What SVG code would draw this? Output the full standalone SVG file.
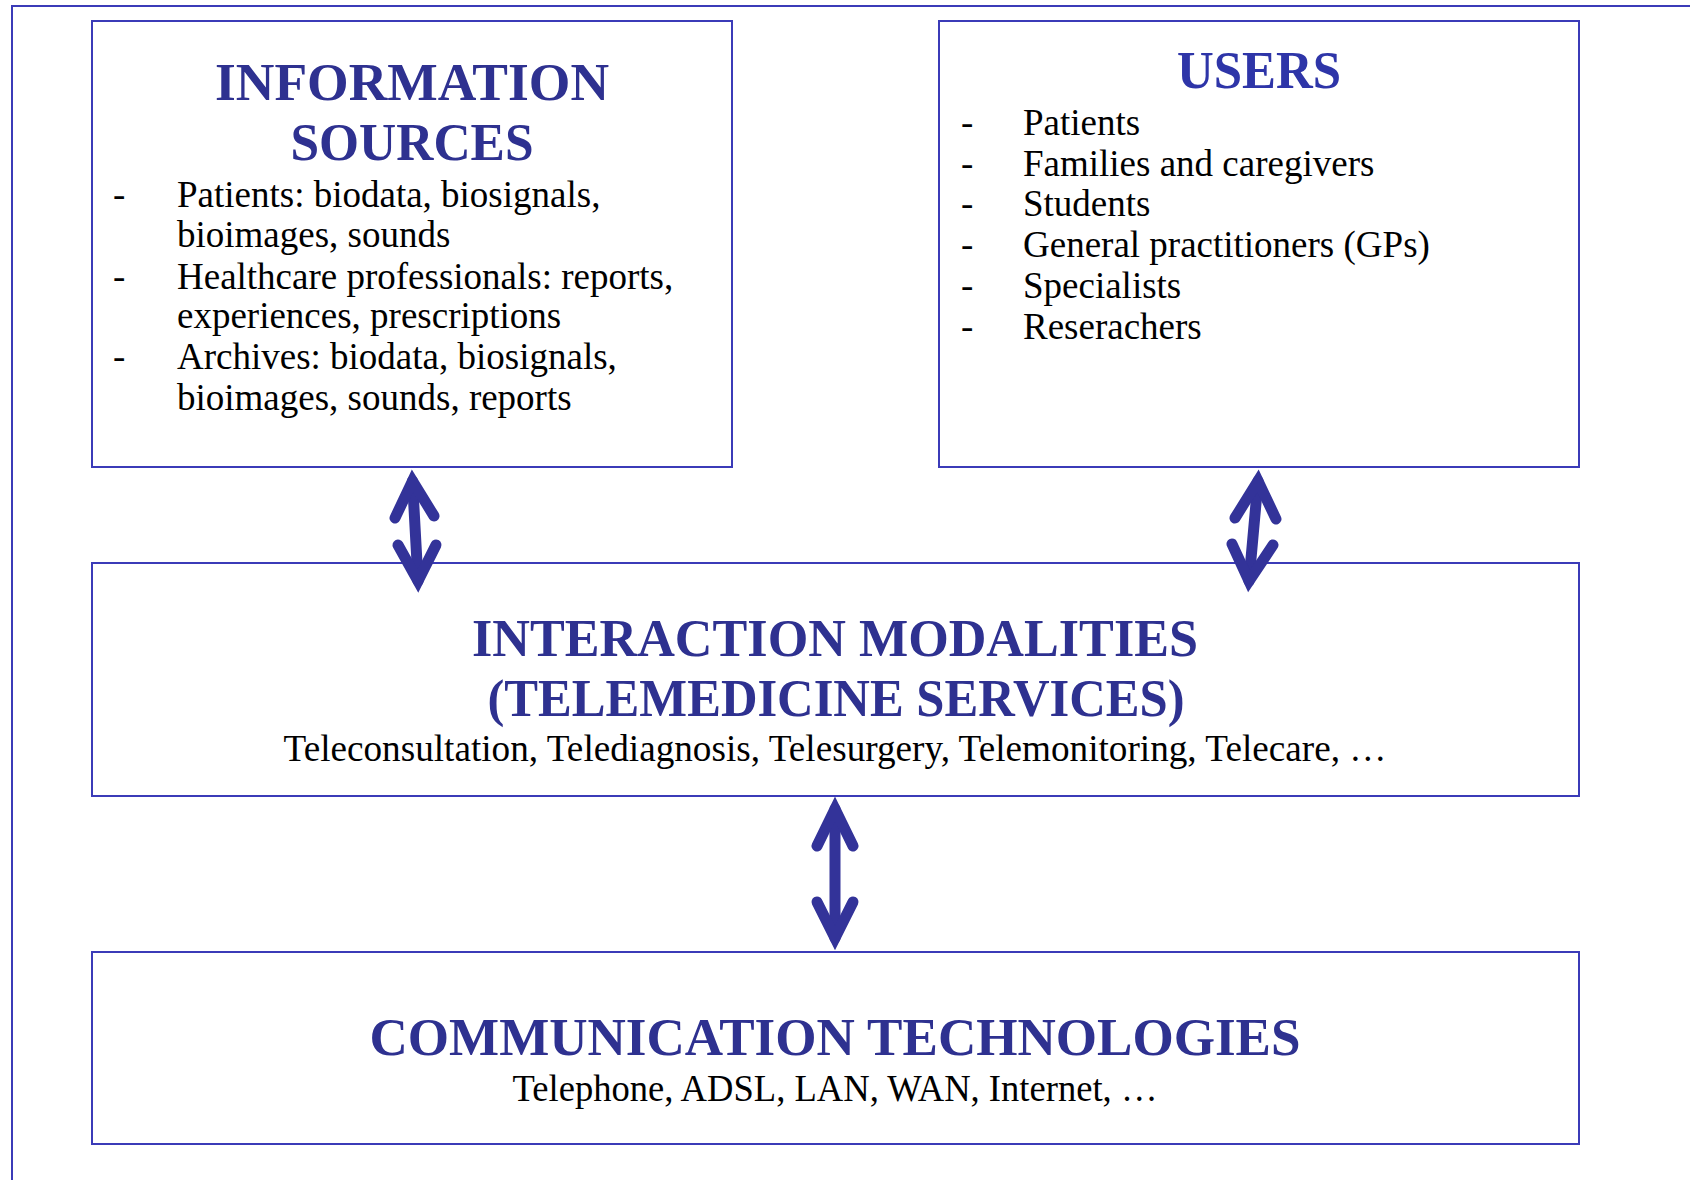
<svg xmlns="http://www.w3.org/2000/svg" width="1690" height="1180" viewBox="0 0 1690 1180">
<defs>
<style>
.frame{fill:none;stroke:#3B3BB8;stroke-width:2}
.box{fill:#ffffff;stroke:#3B3BB8;stroke-width:2}
.title{font-family:"Liberation Serif","Times New Roman",serif;font-weight:bold;font-size:52px;fill:#2E3190;text-anchor:middle}
.body{font-family:"Liberation Serif","Times New Roman",serif;font-size:37px;fill:#000000}
.mid{text-anchor:middle}
.arrow{fill:none;stroke:#333399;stroke-width:11;stroke-linecap:round;stroke-linejoin:miter;stroke-miterlimit:6}
</style>
</defs>
<rect width="1690" height="1180" fill="#ffffff"/>
<path class="frame" d="M12,1180 V6 H1690"/>

<g id="information-sources">
<rect class="box" x="92" y="21" width="640" height="446"/>
<text class="title" x="412" y="100" textLength="394" lengthAdjust="spacingAndGlyphs">INFORMATION</text>
<text class="title" x="412" y="160" textLength="243" lengthAdjust="spacingAndGlyphs">SOURCES</text>
<text class="body" x="113" y="207">-</text>
<text class="body" x="177" y="207">Patients: biodata, biosignals,</text>
<text class="body" x="177" y="247">bioimages, sounds</text>
<text class="body" x="113" y="289">-</text>
<text class="body" x="177" y="289">Healthcare professionals: reports,</text>
<text class="body" x="177" y="328">experiences, prescriptions</text>
<text class="body" x="113" y="369">-</text>
<text class="body" x="177" y="369">Archives: biodata, biosignals,</text>
<text class="body" x="177" y="410">bioimages, sounds, reports</text>
</g>

<g id="users">
<rect class="box" x="939" y="21" width="640" height="446"/>
<text class="title" x="1259" y="88" style="fill:#2E35A8" textLength="164" lengthAdjust="spacingAndGlyphs">USERS</text>
<text class="body" x="961" y="135">-</text>
<text class="body" x="1023" y="135">Patients</text>
<text class="body" x="961" y="176">-</text>
<text class="body" x="1023" y="176">Families and caregivers</text>
<text class="body" x="961" y="216">-</text>
<text class="body" x="1023" y="216">Students</text>
<text class="body" x="961" y="257">-</text>
<text class="body" x="1023" y="257">General practitioners (GPs)</text>
<text class="body" x="961" y="298">-</text>
<text class="body" x="1023" y="298">Specialists</text>
<text class="body" x="961" y="339">-</text>
<text class="body" x="1023" y="339">Reserachers</text>
</g>

<g id="interaction-modalities">
<rect class="box" x="92" y="563" width="1487" height="233"/>
<text class="title" x="835" y="656" textLength="726" lengthAdjust="spacingAndGlyphs">INTERACTION MODALITIES</text>
<text class="title" x="836" y="716" textLength="697" lengthAdjust="spacingAndGlyphs">(TELEMEDICINE SERVICES)</text>
<text class="body mid" x="835" y="761" textLength="1103" lengthAdjust="spacingAndGlyphs">Teleconsultation, Telediagnosis, Telesurgery, Telemonitoring, Telecare, …</text>
</g>

<g id="communication-technologies">
<rect class="box" x="92" y="952" width="1487" height="192"/>
<text class="title" x="835" y="1055" textLength="931" lengthAdjust="spacingAndGlyphs">COMMUNICATION TECHNOLOGIES</text>
<text class="body mid" x="835" y="1101" textLength="645" lengthAdjust="spacingAndGlyphs">Telephone, ADSL, LAN, WAN, Internet, …</text>
</g>

<g id="connectors">
<path class="arrow" d="M412.5,481 L418,581"/>
<path class="arrow" d="M395,518 L412.5,481 L434,516"/>
<path class="arrow" d="M398,545 L418,581 L436,545"/>

<path class="arrow" d="M1258,481 L1249,581"/>
<path class="arrow" d="M1235,518 L1258,481 L1276,519"/>
<path class="arrow" d="M1232,544 L1249,581 L1273,545"/>

<path class="arrow" d="M835,809 L835,938"/>
<path class="arrow" d="M817,846 L835,809 L853,846"/>
<path class="arrow" d="M817,902 L835,938 L853,902"/>
</g>
</svg>
